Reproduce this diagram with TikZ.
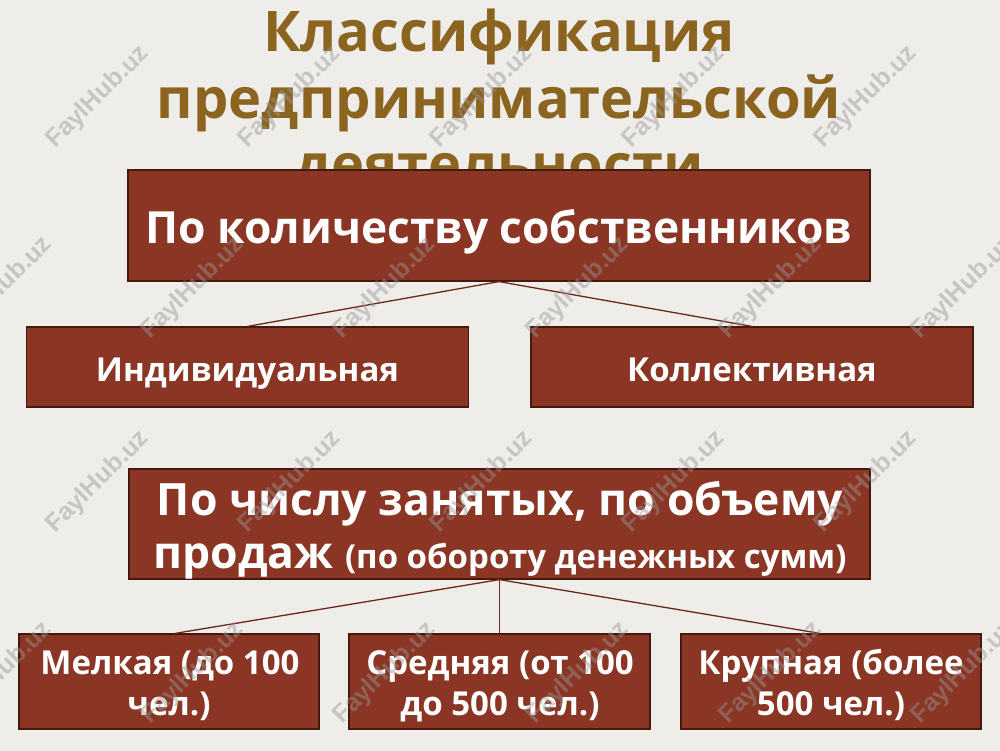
\documentclass[tikz,border=0pt]{standalone}
\usepackage{fontspec}
\setmainfont{Open Sans}
\newfontfamily\wmfont{Liberation Sans}
\usetikzlibrary{calc}
\definecolor{bgin}{RGB}{238,237,234}
\definecolor{bgmid}{RGB}{232,231,225}
\definecolor{bgout}{RGB}{212,210,186}
\definecolor{titlecol}{RGB}{139,100,32}
\definecolor{boxfill}{RGB}{139,54,37}
\definecolor{boxdraw}{RGB}{70,25,15}
\definecolor{linecol}{RGB}{110,40,25}
\definecolor{wmcol}{RGB}{150,150,150}
\pgfdeclareradialshading{vign}{\pgfpoint{0bp}{0bp}}{color(0bp)=(bgin); color(38bp)=(bgin); color(50bp)=(bgmid); color(72bp)=(bgout)}
\tikzset{
  cbox/.style={draw=boxdraw, line width=1.2pt, fill=boxfill, text=white, font=\bfseries, inner sep=0pt, align=center},
  ltext/.style={text=white, anchor=base, inner sep=0pt},
  conn/.style={draw=linecol, line width=1.3pt},
  titletext/.style={text=titlecol, font=\fontsize{56}{60}\selectfont\bfseries, anchor=base, inner sep=0pt},
  wm/.style={text=wmcol, opacity=0.45, rotate=45, font=\fontsize{25}{25}\selectfont\wmfont\bfseries, inner sep=0pt}
}
\begin{document}
\begin{tikzpicture}[x=1pt,y=-1pt]
\useasboundingbox (0,0) rectangle (1000,750);
\shade[shading=vign] (0,0) rectangle (1000,750);
% title
\node[titletext] (t1) at (499,51) {Классификация};
\node[titletext] (t2) at (499,118) {предпринимательской};
\node[titletext] (t3) at (499,184) {деятельности};
% boxes
\node[cbox, minimum width=742pt, minimum height=111pt, text height=35pt, text depth=0pt, font=\fontsize{44.3}{48}\selectfont\bfseries] (b1) at (499,225.5) {По количеству собственников};
\node[cbox, minimum width=442pt, minimum height=80pt, text height=29pt, text depth=0pt, font=\fontsize{33}{38}\selectfont\bfseries] (b2) at (247.5,367) {Индивидуальная};
\node[cbox, minimum width=442pt, minimum height=80pt, text height=29pt, text depth=0pt, font=\fontsize{33}{38}\selectfont\bfseries] (b3) at (752,367) {Коллективная};
\node[cbox, minimum width=741pt, minimum height=110pt] (b4) at (499.5,524) {};
\node[cbox, minimum width=300pt, minimum height=95pt] (b5) at (169,681.5) {};
\node[cbox, minimum width=301pt, minimum height=95pt] (b6) at (499.5,681.5) {};
\node[cbox, minimum width=300pt, minimum height=95pt] (b7) at (831,681.5) {};
% texts of the multi-line boxes
\node[ltext, font=\fontsize{44.5}{48}\selectfont\bfseries] (b4l1) at (500,515) {По числу занятых, по объему};
\node[ltext, font=\fontsize{44.5}{48}\selectfont\bfseries] (b4l2) at (500,568) {продаж {\fontsize{33}{36}\selectfont (по обороту денежных сумм)}};
\node[ltext, font=\fontsize{33}{36}\selectfont\bfseries] (b5l1) at (170,674) {Мелкая (до 100};
\node[ltext, font=\fontsize{33}{36}\selectfont\bfseries] (b5l2) at (169,715) {чел.)};
\node[ltext, font=\fontsize{33}{36}\selectfont\bfseries] (b6l1) at (500,674) {Средняя (от 100};
\node[ltext, font=\fontsize{33}{36}\selectfont\bfseries] (b6l2) at (500,715) {до 500 чел.)};
\node[ltext, font=\fontsize{33}{36}\selectfont\bfseries] (b7l1) at (831,674) {Крупная (более};
\node[ltext, font=\fontsize{33}{36}\selectfont\bfseries] (b7l2) at (831,715) {500 чел.)};
% connectors
\draw[conn] (b1.south) -- (b2.north);
\draw[conn] (b1.south) -- (b3.north);
\draw[conn] (b4.south) -- ($(b5.north)+(6,0)$);
\draw[conn] (b4.south) -- (b6.north);
\draw[conn] (b4.south) -- ($(b7.north)+(-11,0)$);
% watermarks
\foreach \yy in {97,482}{
  \foreach \xx in {98,290,482,674,866}{
    \node[wm] at (\xx,\yy) {FaylHub.uz};
  }
}
\foreach \yy in {288,673}{
  \foreach \xx in {1,193,385,578,771,963}{
    \node[wm] at (\xx,\yy) {FaylHub.uz};
  }
}
\end{tikzpicture}
\end{document}
